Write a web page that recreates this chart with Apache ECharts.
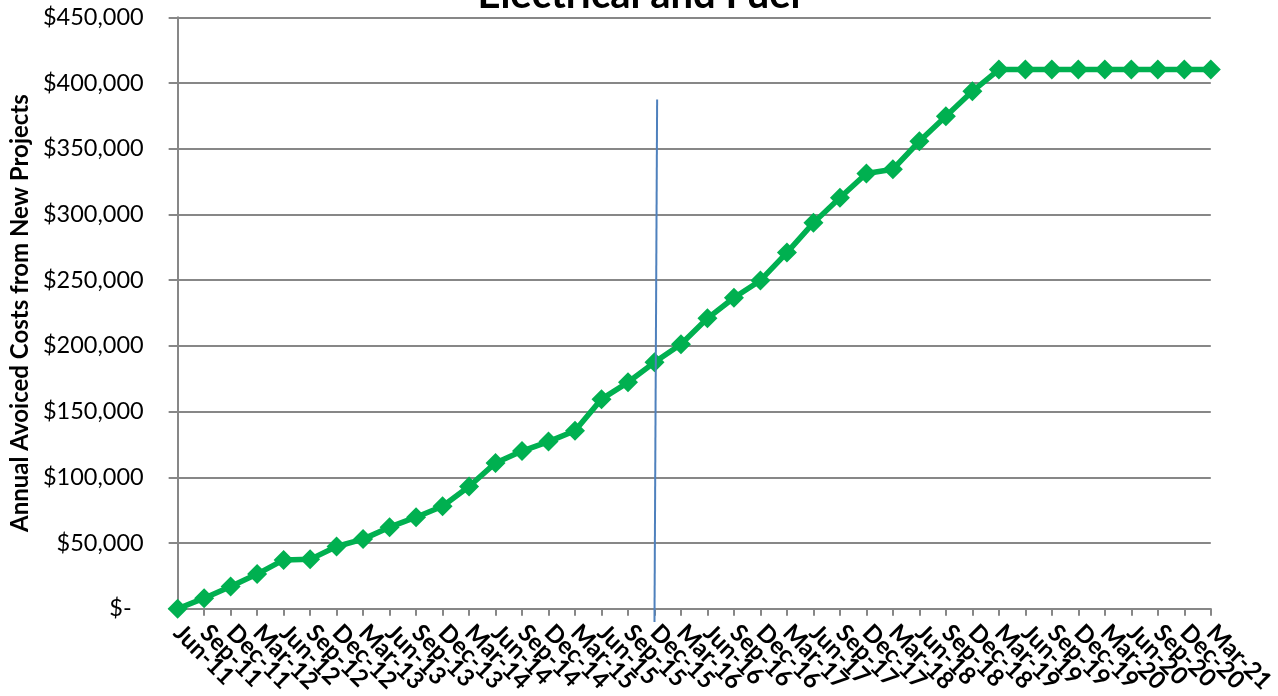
<!DOCTYPE html>
<html>
<head>
<meta charset="utf-8">
<title>Electrical and Fuel</title>
<script src="https://cdn.jsdelivr.net/npm/echarts@6/dist/echarts.min.js"></script>
<style>
  html, body { margin: 0; padding: 0; background: #ffffff; }
  #chart { width: 1278px; height: 696px; }
</style>
</head>
<body>
<div id="chart"></div>
<script>
// Quarterly periods
const quarters = [
  'Jun-11', 'Sep-11', 'Dec-11',
  'Mar-12', 'Jun-12', 'Sep-12', 'Dec-12',
  'Mar-13', 'Jun-13', 'Sep-13', 'Dec-13',
  'Mar-14', 'Jun-14', 'Sep-14', 'Dec-14',
  'Mar-15', 'Jun-15', 'Sep-15', 'Dec-15',
  'Mar-16', 'Jun-16', 'Sep-16', 'Dec-16',
  'Mar-17', 'Jun-17', 'Sep-17', 'Dec-17',
  'Mar-18', 'Jun-18', 'Sep-18', 'Dec-18',
  'Mar-19', 'Jun-19', 'Sep-19', 'Dec-19',
  'Mar-20', 'Jun-20', 'Sep-20', 'Dec-20',
  'Mar-21'
];

// Cumulative annual avoided costs (USD)
const avoidedCosts = [
  0, 8100, 17000,
  26400, 37200, 37600, 47400,
  53000, 62100, 69700, 78000,
  93000, 111000, 120000, 127200,
  135500, 159500, 172300, 187500,
  201200, 221000, 236600, 249800,
  271000, 293600, 312700, 331200,
  334400, 355700, 374700, 393700,
  410200, 410200, 410200, 410200,
  410200, 410200, 410200, 410200,
  410200
];

// Y axis ticks
const yMin = 0;
const yMax = 450000;
const yStep = 50000;

// Divider marking the current quarter
const dividerQuarter = 'Dec-15';
const dividerTop = 387400;
const dividerBottom = -10000;

const chart = echarts.init(document.getElementById('chart'));

function money(v) {
  if (v === 0) return '$-  ';
  return '$' + v.toLocaleString('en-US');
}

chart.setOption({
  animation: false,
  backgroundColor: '#ffffff',
  title: {
    text: 'Electrical and Fuel',
    left: 'center',
    top: -30,
    textStyle: {
      fontFamily: 'Lato',
      fontWeight: 'bold',
      fontSize: 40,
      color: '#000000'
    }
  },
  grid: {
    left: 173.5,
    right: 66,
    top: 17.3,
    bottom: 86.7,
    containLabel: false
  },
  xAxis: {
    type: 'category',
    data: quarters,
    boundaryGap: false,
    axisLine: { show: true, lineStyle: { color: '#878787', width: 2 } },
    axisTick: { show: true, alignWithLabel: true, length: 7, lineStyle: { color: '#878787', width: 2 } },
    axisLabel: {
      interval: 0,
      rotate: -45,
      margin: 20,
      fontFamily: 'Lato',
      fontWeight: 'bold',
      fontSize: 24,
      color: '#000000'
    },
    splitLine: { show: false }
  },
  yAxis: {
    type: 'value',
    min: yMin,
    max: yMax,
    interval: yStep,
    name: 'Annual Avoiced Costs from New Projects',
    nameLocation: 'middle',
    nameGap: 142,
    nameTextStyle: {
      fontFamily: 'Lato',
      fontWeight: 'bold',
      fontSize: 24,
      color: '#000000'
    },
    axisLine: { show: true, lineStyle: { color: '#878787', width: 2 } },
    axisTick: { show: true, length: 9, lineStyle: { color: '#878787', width: 2 } },
    axisLabel: {
      margin: 34,
      fontFamily: 'Lato',
      fontSize: 23.5,
      color: '#000000',
      formatter: money
    },
    splitLine: { show: true, lineStyle: { color: '#878787', width: 2 } }
  },
  series: [
    {
      name: 'Avoided Costs',
      type: 'line',
      data: avoidedCosts,
      symbol: 'diamond',
      symbolSize: 20,
      lineStyle: { color: '#00B050', width: 5.5 },
      itemStyle: { color: '#00B050' },
      z: 3
    },
    {
      name: 'Divider',
      type: 'custom',
      data: [[dividerQuarter, dividerTop, dividerBottom]],
      encode: { x: 0, y: [1, 2] },
      clip: false,
      z: 5,
      silent: true,
      renderItem: function (params, api) {
        const idx = api.value(0);
        const top = api.coord([idx, api.value(1)]);
        const bottom = api.coord([idx, api.value(2)]);
        const step = api.size([1, 0])[0];
        return {
          type: 'line',
          shape: { x1: top[0] + step * 0.1, y1: top[1], x2: bottom[0], y2: bottom[1] },
          style: { stroke: '#4F81BD', lineWidth: 2 }
        };
      }
    }
  ]
});
</script>
</body>
</html>
